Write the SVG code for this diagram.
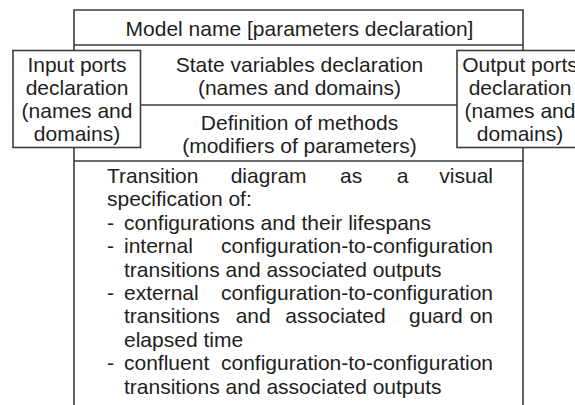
<svg xmlns="http://www.w3.org/2000/svg" width="575" height="405" viewBox="0 0 575 405">
<style>
  text { font-family: "Liberation Sans", Arial, sans-serif; font-size: 21px; fill: #1e1e1e; }
  .c { text-anchor: middle; }
  .e { text-anchor: end; }
  .ln { stroke: #3c3c3c; stroke-width: 1.6; fill: none; }
  .box { stroke: #3c3c3c; stroke-width: 1.6; fill: #ffffff; }
</style>
<rect x="0" y="0" width="575" height="405" fill="#ffffff"/>
<g id="model">
  <path class="ln" d="M74 405 V10 H523 V405 M74 45 H523 M74 161 H523 M140 105 H457"/>
  <text class="c" x="299.5" y="35.5">Model name [parameters declaration]</text>
</g>
<g id="state-variables">
  <text class="c" x="299.5" y="72">State variables declaration</text>
  <text class="c" x="299.5" y="95">(names and domains)</text>
</g>
<g id="methods">
  <text class="c" x="299.5" y="130">Definition of methods</text>
  <text class="c" x="299.5" y="153">(modifiers of parameters)</text>
</g>
<g id="input-ports">
  <rect class="box" x="13" y="50.5" width="127.5" height="97"/>
  <text class="c" x="77" y="72">Input ports</text>
  <text class="c" x="77" y="95">declaration</text>
  <text class="c" x="77" y="118">(names and</text>
  <text class="c" x="77" y="140.5">domains)</text>
</g>
<g id="output-ports">
  <rect class="box" x="457" y="50.5" width="130" height="97"/>
  <text class="c" x="520" y="72">Output ports</text>
  <text class="c" x="520" y="95">declaration</text>
  <text class="c" x="520" y="118">(names and</text>
  <text class="c" x="520" y="140.5">domains)</text>
</g>
<g id="transition-diagram">
  <text x="107" y="183">Transition</text>
  <text x="230.7" y="183">diagram</text>
  <text x="340" y="183">as</text>
  <text x="396.7" y="183">a</text>
  <text class="e" x="493" y="183">visual</text>
  <text x="107" y="206.4">specification of:</text>
  <text x="107" y="229.8">-</text>
  <text x="124" y="229.8">configurations and their lifespans</text>
  <text x="107" y="253.2">-</text>
  <text x="124" y="253.2">internal</text>
  <text class="e" x="493" y="253.2">configuration-to-configuration</text>
  <text x="124" y="276.6">transitions and associated outputs</text>
  <text x="107" y="300">-</text>
  <text x="124" y="300">external</text>
  <text class="e" x="493" y="300">configuration-to-configuration</text>
  <text x="124" y="323.4">transitions</text>
  <text x="235.7" y="323.4">and</text>
  <text x="285.3" y="323.4">associated</text>
  <text x="409" y="323.4">guard</text>
  <text class="e" x="493" y="323.4">on</text>
  <text x="124" y="346.8">elapsed time</text>
  <text x="107" y="370.2">-</text>
  <text x="124" y="370.2">confluent</text>
  <text class="e" x="493" y="370.2">configuration-to-configuration</text>
  <text x="124" y="393.6">transitions and associated outputs</text>
</g>
</svg>
